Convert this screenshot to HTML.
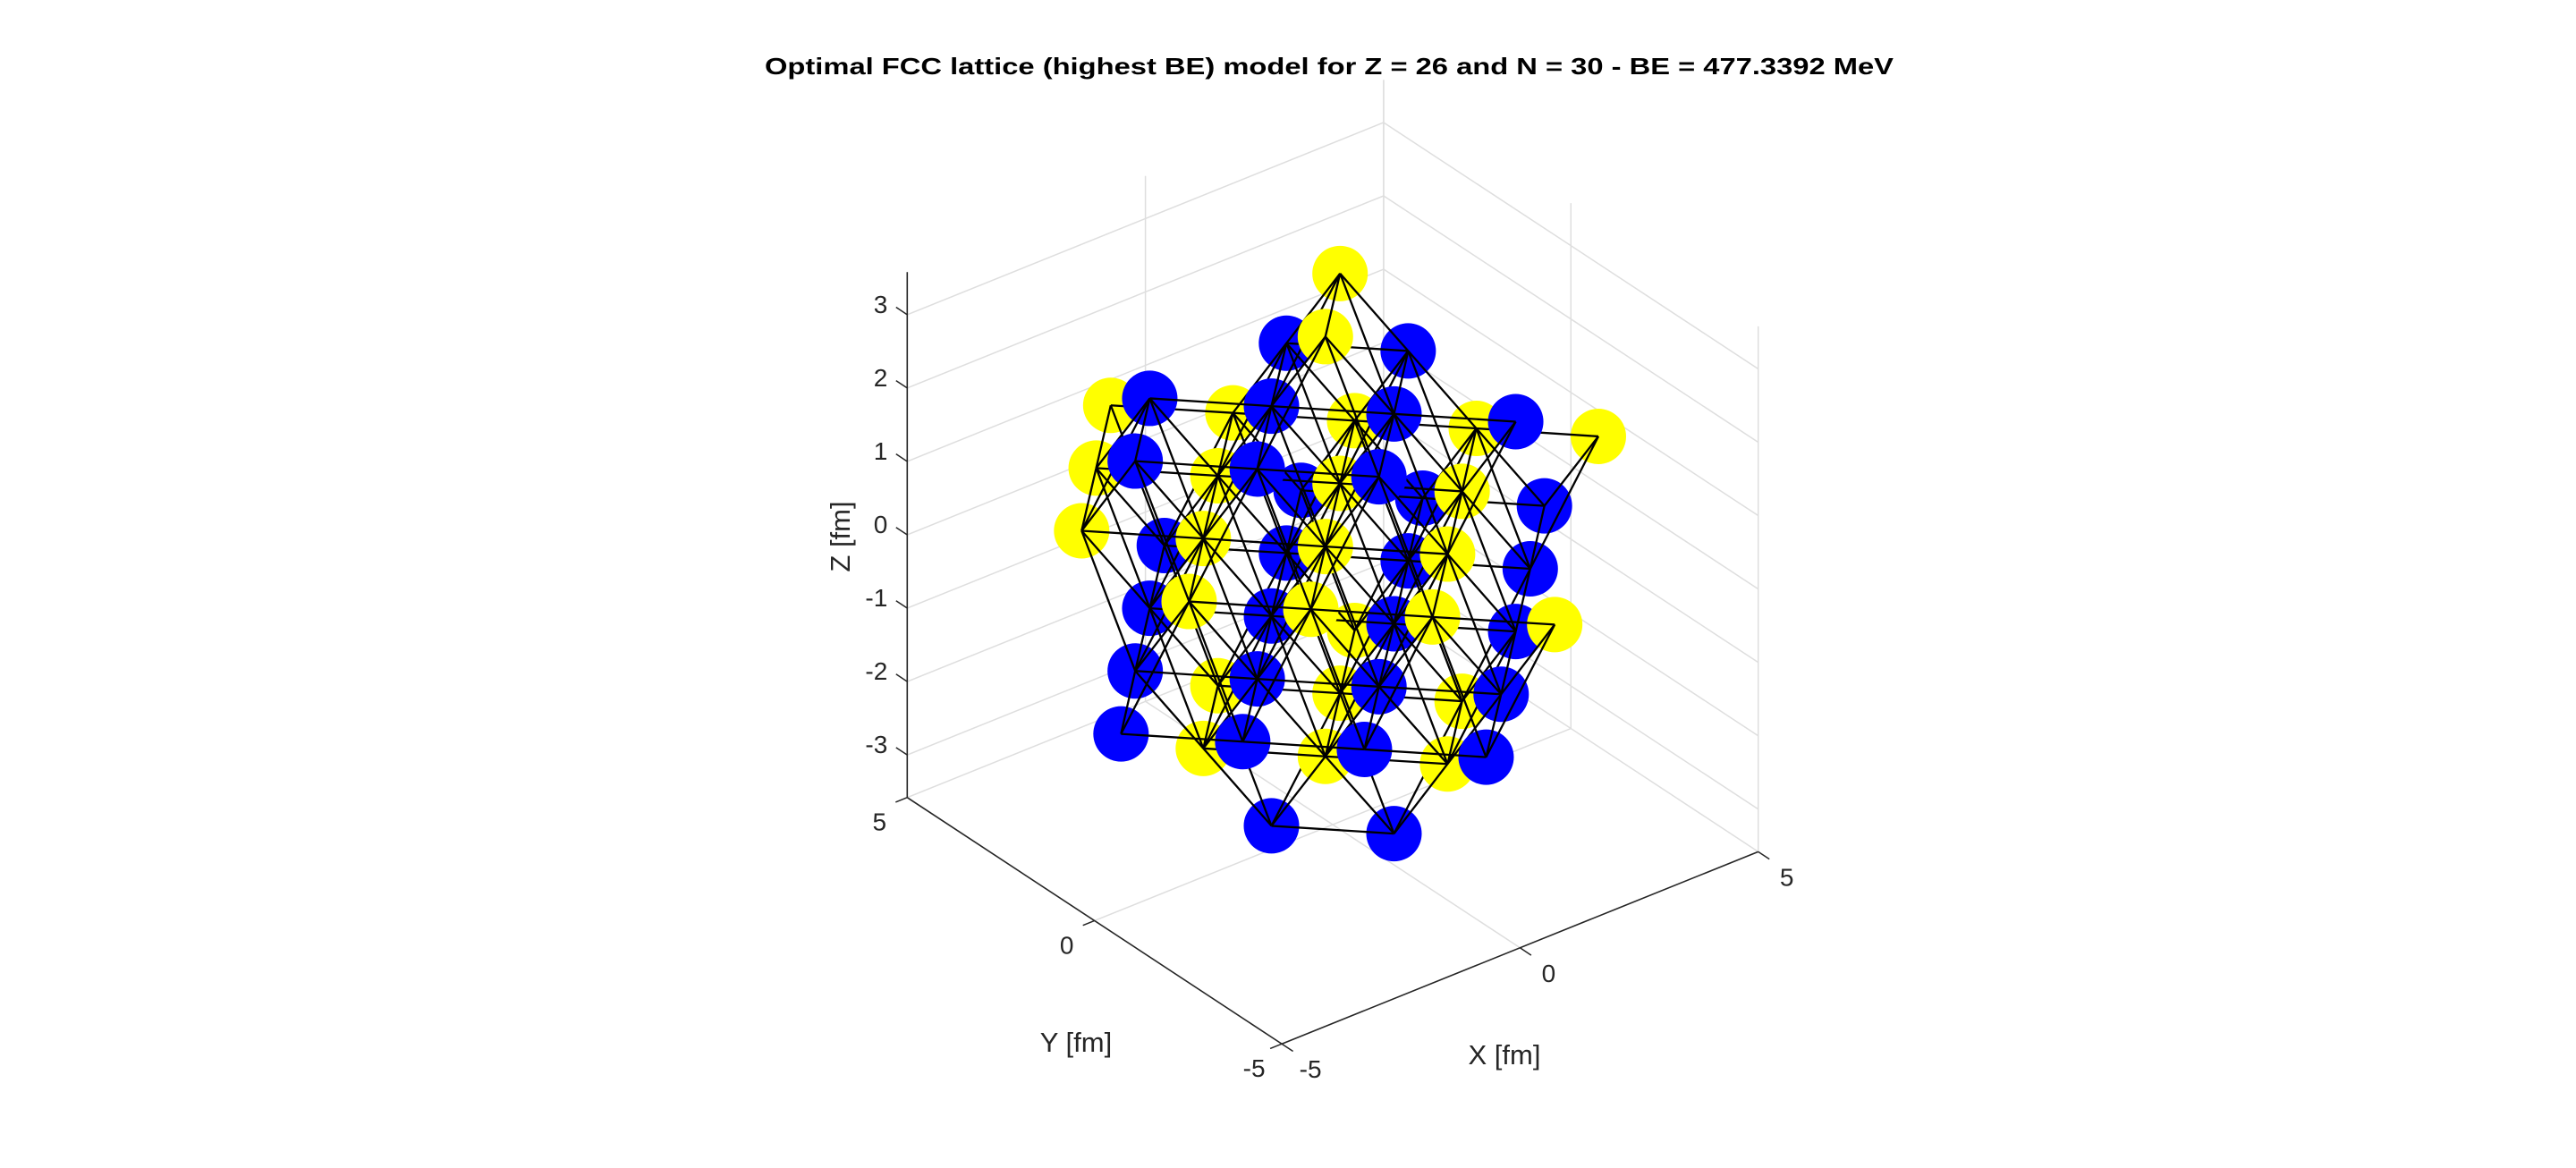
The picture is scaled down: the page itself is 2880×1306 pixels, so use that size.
<!DOCTYPE html>
<html><head><meta charset="utf-8"><style>
html,body{margin:0;padding:0;background:#fff;}
svg{display:block;font-family:"Liberation Sans",Arial,sans-serif;}
</style></head><body>
<svg id="chart" xmlns="http://www.w3.org/2000/svg" width="2880" height="1306" viewBox="0 0 2880 1306">
<rect x="0" y="0" width="2880" height="1306" fill="#fff"/>
<text x="1486" y="83" text-anchor="middle" font-size="26" font-weight="bold" textLength="1262" lengthAdjust="spacingAndGlyphs" fill="#000">Optimal FCC lattice (highest BE) model for Z = 26 and N = 30 - BE = 477.3392 MeV</text>
<g id="grid"></g>
<g id="axes"></g>
<g id="atoms"></g>
<text x="1682" y="1190" text-anchor="middle" font-size="31" fill="#262626">X [fm]</text>
<text x="1203" y="1176" text-anchor="middle" font-size="31" fill="#262626">Y [fm]</text>
<text x="0" y="0" transform="translate(950,600) rotate(-90)" text-anchor="middle" font-size="31" fill="#262626">Z [fm]</text>
</svg>
<script>
// ---- data (fm) ----
const protonX = [0.72,-0.72,-3.58,-2.15,-0.72,0.72,-3.58,-2.15,-0.72,0.72,-0.72,-2.15,0.72,-0.72,2.15,0.72,3.58,2.15,5.01,-0.72,0.72,2.15,-2.15,-0.72,0.72,2.15];
const protonY = [0.72,-0.72,2.15,0.72,-0.72,-2.15,-0.72,-2.15,-3.58,-5.01,5.01,3.58,3.58,2.15,2.15,0.72,0.72,-0.72,-0.72,2.15,0.72,-0.72,0.72,-0.72,-2.15,2.15];
const protonZ = [3.50,3.50,0.64,0.64,0.64,0.64,0.64,0.64,0.64,0.64,0.64,0.64,0.64,0.64,0.64,0.64,0.64,0.64,0.64,-2.22,-2.22,-2.22,-2.22,-2.22,-2.22,-2.22];
const neutronX = [0.72,2.15,-2.15,-0.72,0.72,2.15,-3.58,-2.15,-0.72,-0.72,0.72,2.15,3.58,-2.15,-0.72,0.72,2.15,-3.58,-2.15,-0.72,0.72,-5.01,-3.58,-2.15,-0.72,5.01,3.58,2.15,-0.72,0.72];
const neutronY = [2.15,0.72,2.15,0.72,-0.72,-2.15,0.72,-0.72,-2.15,3.58,2.15,0.72,-0.72,2.15,0.72,-0.72,-2.15,0.72,-0.72,-2.15,-3.58,-0.72,-2.15,-3.58,-5.01,0.72,2.15,3.58,0.72,-0.72];
const neutronZ = [2.07,2.07,2.07,2.07,2.07,2.07,2.07,2.07,2.07,-0.79,-0.79,-0.79,-0.79,-0.79,-0.79,-0.79,-0.79,-0.79,-0.79,-0.79,-0.79,-0.79,-0.79,-0.79,-0.79,-0.79,-0.79,-0.79,-3.65,-3.65];
const xTicks = [-5,0,5];
const yTicks = [-5,0,5];
const zTicks = [-3,-2,-1,0,1,2,3];
const limX = [-5,5], limY = [-5,5], limZ = [-3.58,3.58];

// ---- projection ----
const O = [1490, 628.3];
const UX = [53.26,-21.49], UY = [-41.88,-27.55], UZ = [0,-82.05];
function px(x,y,z){return O[0]+UX[0]*x+UY[0]*y+UZ[0]*z;}
function py(x,y,z){return O[1]+UX[1]*x+UY[1]*y+UZ[1]*z;}
function depth(x,y,z){return -0.527*x-0.687*y+0.5*z;}
const NS="http://www.w3.org/2000/svg";
function mk(tag,attrs,parent){const e=document.createElementNS(NS,tag);for(const k in attrs)e.setAttribute(k,attrs[k]);parent.appendChild(e);return e;}
function seg(a,b,parent,stroke,w){return mk('line',{x1:px(...a),y1:py(...a),x2:px(...b),y2:py(...b),stroke:stroke,'stroke-width':w},parent);}

const grid=document.getElementById('grid'), axes=document.getElementById('axes');
const G='#dedede', zlo=limZ[0], zhi=limZ[1];
zTicks.forEach(z=>{
  let l=seg([-5,5,z],[5,5,z],grid,G,1.5);
  
  
  l=seg([5,5,z],[5,-5,z],grid,G,1.5);
  
  
});
xTicks.forEach(x=>{
  let l=seg([x,5,zlo],[x,5,zhi],grid,G,1.5);
  
  
  l=seg([x,-5,zlo],[x,5,zlo],grid,G,1.5);
  
  
});
yTicks.forEach(y=>{
  let l=seg([5,y,zlo],[5,y,zhi],grid,G,1.5);
  
  
  l=seg([-5,y,zlo],[5,y,zlo],grid,G,1.5);
  
  
});
const A='#262626';
let ax=seg([-5,5,zlo],[-5,5,zhi],axes,A,1.6);


ax=seg([-5,-5,zlo],[5,-5,zlo],axes,A,1.6);


ax=seg([-5,-5,zlo],[-5,5,zlo],axes,A,1.6);


zTicks.forEach(z=>{
  const x0=px(-5,5,z), y0=py(-5,5,z);
  const t=mk('line',{x1:x0,y1:y0,x2:x0-12.5,y2:y0-8.3,stroke:A,'stroke-width':1.5},axes);
  
  
  const lb=mk('text',{x:x0-22,y:y0-2,'text-anchor':'end','font-size':28,fill:A},axes);
  lb.textContent=String(z);
  
  
});
xTicks.forEach(x=>{
  const x0=px(x,-5,zlo), y0=py(x,-5,zlo);
  const t=mk('line',{x1:x0,y1:y0,x2:x0+12.5,y2:y0+8.3,stroke:A,'stroke-width':1.5},axes);
  
  
  const lb=mk('text',{x:x0+32,y:y0+38,'text-anchor':'middle','font-size':28,fill:A},axes);
  lb.textContent=String(x);
  
  
});
yTicks.forEach(y=>{
  const x0=px(-5,y,zlo), y0=py(-5,y,zlo);
  const t=mk('line',{x1:x0,y1:y0,x2:x0-13,y2:y0+5.2,stroke:A,'stroke-width':1.5},axes);
  
  
  const lb=mk('text',{x:x0-31,y:y0+37,'text-anchor':'middle','font-size':28,fill:A},axes);
  lb.textContent=String(y);
  
  
});

// atoms + bonds, depth sorted together
const all=[];
protonX.forEach((v,i)=>all.push({x:v,y:protonY[i],z:protonZ[i],c:'#ffff00',n:'proton'}));
neutronX.forEach((v,i)=>all.push({x:v,y:neutronY[i],z:neutronZ[i],c:'#0000ff',n:'neutron'}));
const items=[];
all.forEach(a=>items.push({t:'atom',a:a,d:depth(a.x,a.y,a.z)}));
for(let i=0;i<all.length;i++){for(let j=i+1;j<all.length;j++){
  const a=all[i],b=all[j];
  const dd=Math.hypot(a.x-b.x,a.y-b.y,a.z-b.z);
  if(dd>1.6&&dd<2.3){
    items.push({t:'bond',a:a,b:b,d:Math.max(depth(a.x,a.y,a.z),depth(b.x,b.y,b.z))+0.05});
  }
}}
items.sort((p,q)=>p.d-q.d);
const atomsG=document.getElementById('atoms');
items.forEach(it=>{
  if(it.t==='atom'){
    const a=it.a;
    const c=mk('circle',{cx:px(a.x,a.y,a.z),cy:py(a.x,a.y,a.z),r:31,fill:a.c},atomsG);
    
    
  } else {
    const a=it.a,b=it.b;
    const l=mk('line',{x1:px(a.x,a.y,a.z),y1:py(a.x,a.y,a.z),x2:px(b.x,b.y,b.z),y2:py(b.x,b.y,b.z),stroke:'#000','stroke-width':2.3},atomsG);
    
    
  }
});
</script>
</body></html>
